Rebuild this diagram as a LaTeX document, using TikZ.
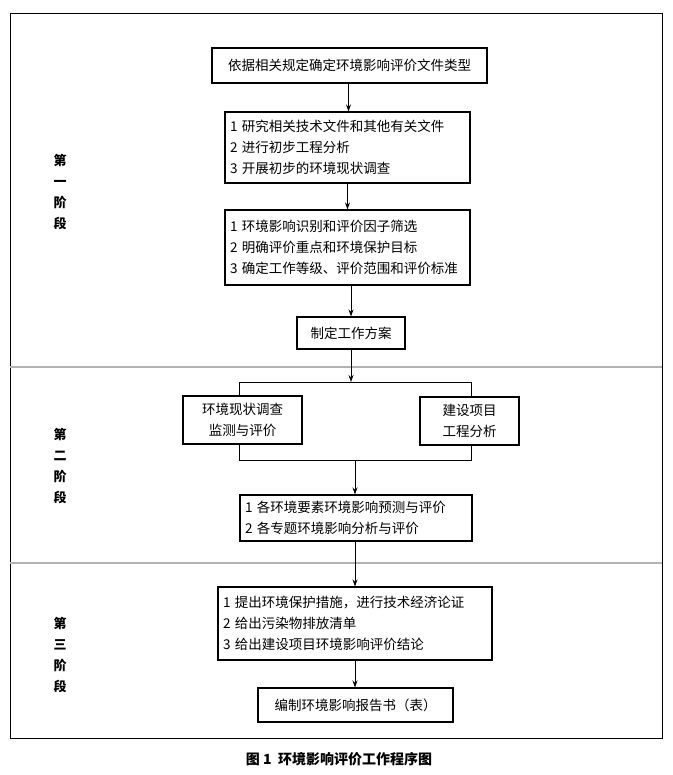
\documentclass[tikz,border=0pt]{standalone}
\usepackage{fontspec}
\setmainfont{Noto Sans CJK SC}
\usetikzlibrary{arrows.meta}
\begin{document}
\begin{tikzpicture}[x=1pt,y=-1pt,
  box/.style={draw,line width=1.1pt,inner sep=0pt,font=\fontsize{13.5}{21}\selectfont},
  arr/.style={-{Stealth[length=7pt,width=5pt]},line width=1pt},
  stage/.style={font=\bfseries\fontsize{13}{21}\selectfont,align=center}]
\useasboundingbox (0,0) rectangle (672,775);
\draw[line width=1pt] (10,14) rectangle (662,738);
\draw[gray!60,line width=1.2pt] (10,367) -- (662,367) (10,563) -- (662,563);
\node[box,minimum width=275pt,minimum height=35pt] (b0) at (349.5,65.5) {依据相关规定确定环境影响评价文件类型};
\node[box,minimum width=245pt,minimum height=71pt,align=left,text width=235pt] (b1) at (347.5,147.5) {1 研究相关技术文件和其他有关文件\\2 进行初步工程分析\\3 开展初步的环境现状调查};
\node[box,minimum width=245pt,minimum height=75pt,align=left,text width=235pt] (b2) at (347.5,247.5) {1 环境影响识别和评价因子筛选\\2 明确评价重点和环境保护目标\\3 确定工作等级、评价范围和评价标准};
\node[box,minimum width=108pt,minimum height=32pt] (b3) at (351,333) {制定工作方案};
\coordinate (tl) at (239,382); \coordinate (tr) at (471,382);
\coordinate (bl) at (239,460); \coordinate (br) at (471,460);
\coordinate (tm) at (351,382); \coordinate (bm) at (355,460);
\draw[line width=1pt] (bl) -- (tl) -- (tr) -- (br) -- cycle;
\node[box,fill=white,minimum width=119pt,minimum height=48pt,align=center] (lb) at (242.5,420) {环境现状调查\\监测与评价};
\node[box,fill=white,minimum width=99pt,minimum height=48pt,align=center] (rb) at (469.5,421) {建设项目\\工程分析};
\node[box,minimum width=232pt,minimum height=46pt,align=left,text width=222pt] (b4) at (356,518) {1 各环境要素环境影响预测与评价\\2 各专题环境影响分析与评价};
\node[box,minimum width=274pt,minimum height=73pt,align=left,text width=264pt] (b5) at (355,623.5) {1 提出环境保护措施，进行技术经济论证\\2 给出污染物排放清单\\3 给出建设项目环境影响评价结论};
\node[box,minimum width=195pt,minimum height=34pt] (b6) at (355.5,705) {编制环境影响报告书（表）};
\draw[arr] ([xshift=-1pt]b0.south) -- ([xshift=-1pt]b0.south |- b1.north);
\draw[arr] (b1.south) -- (b1.south |- b2.north);
\draw[arr] ([xshift=3.5pt]b2.south) -- ([xshift=3.5pt]b2.south |- b3.north);
\draw[arr] (b3.south) -- (tm);
\draw[arr] (bm) -- (bm |- b4.north);
\draw[arr] (b5.north |- b4.south) -- (b5.north);
\draw[arr] (b5.south) -- (b5.south |- b6.north);
\node[stage] (s1) at (60,192) {第\\一\\阶\\段};
\node[stage] (s2) at (60,466) {第\\二\\阶\\段};
\node[stage] (s3) at (60,655) {第\\三\\阶\\段};
\node[font=\bfseries\fontsize{14}{16}\selectfont] (cap) at (339,759) {图 1\ \ 环境影响评价工作程序图};
\end{tikzpicture}
\end{document}
